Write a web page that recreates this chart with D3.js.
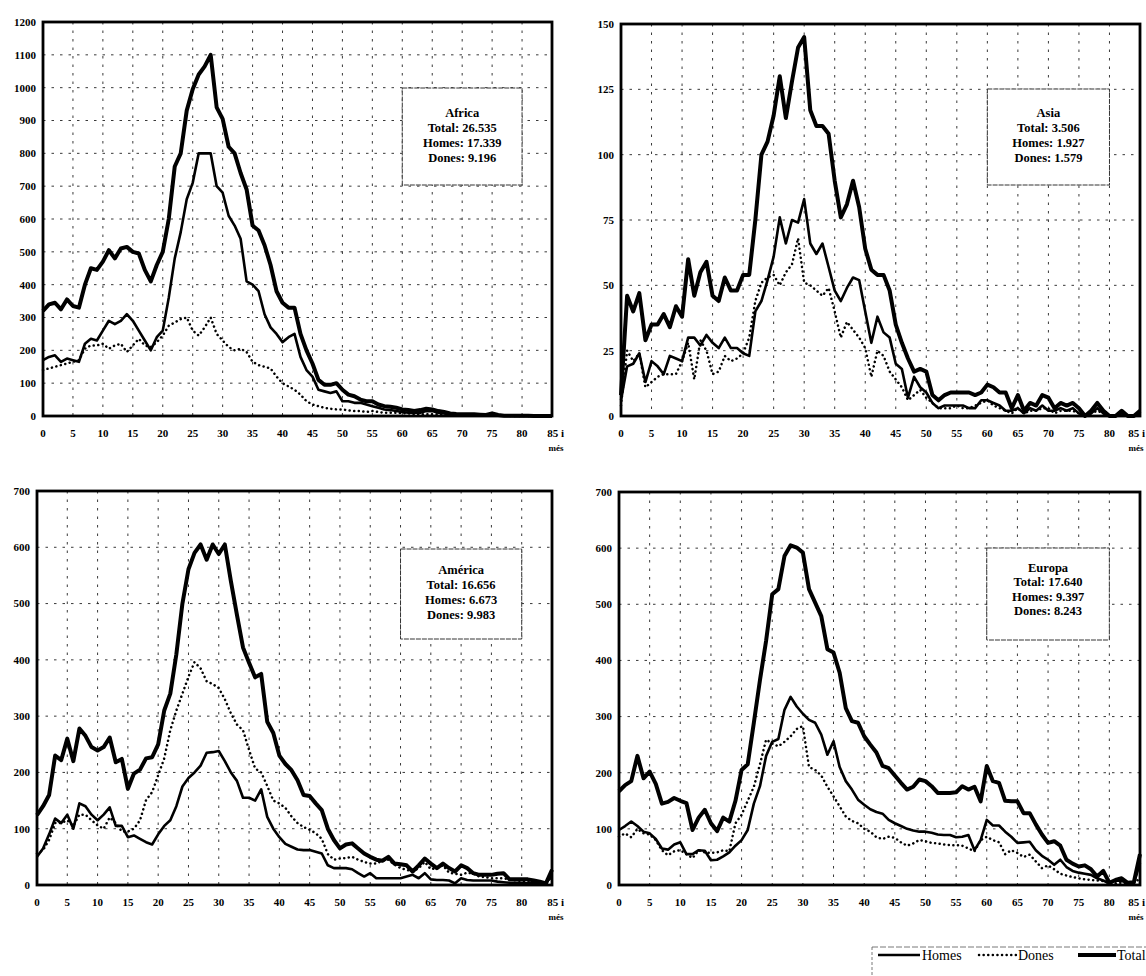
<!DOCTYPE html>
<html>
<head>
<meta charset="utf-8">
<script src="https://cdn.jsdelivr.net/npm/d3@7"></script>
<style>
  html, body { margin: 0; padding: 0; background: #fff; }
  svg { display: block; }
  text { font-family: "Liberation Serif", "DejaVu Serif", serif; fill: #000; }
</style>
</head>
<body>
<svg id="chart" width="1146" height="976"></svg>
<script>
// ---------- DATA ----------
const ages = d3.range(0, 86); // 0 .. 85 i més
const xTicks = [0,5,10,15,20,25,30,35,40,45,50,55,60,65,70,75,80,85];
const xTickLabels = ["0","5","10","15","20","25","30","35","40","45","50","55","60","65","70","75","80","85 i"];

const africaTotal = [320,340,345,325,355,335,330,400,450,445,470,505,480,510,515,500,495,445,410,460,500,600,760,800,930,995,1040,1065,1100,940,905,820,800,740,690,580,565,520,460,380,345,330,330,250,200,160,110,95,95,100,80,65,60,50,45,45,35,30,28,25,20,18,15,18,22,20,15,12,8,6,5,5,5,4,3,8,3,1,1,1,1,1,0,0,0,0];
const africaHomes = [170,180,185,165,175,170,165,220,235,230,260,290,280,290,310,290,260,230,200,240,260,360,480,560,660,710,800,800,800,700,680,610,580,540,410,400,380,310,270,250,225,240,250,180,140,120,80,75,70,75,45,45,40,40,35,30,25,20,18,15,12,10,10,10,15,15,10,8,5,4,3,3,3,2,2,5,2,1,1,0,0,0,0,0,0,0];
const africaDones = [140,145,150,155,160,165,170,205,215,215,220,205,215,220,195,215,235,215,210,225,245,275,285,295,300,260,245,270,300,250,230,210,200,205,195,165,155,150,145,120,100,90,80,65,45,35,30,25,22,20,20,17,15,15,12,15,12,10,10,10,8,8,5,5,5,5,5,4,3,3,2,2,2,2,1,3,1,1,0,0,0,0,0,0,0,0];

const asiaTotal = [8,46,40,47,29,35,35,39,34,42,38,60,46,55,59,46,44,53,48,48,54,54,75,100,105,115,130,114,128,141,145,117,111,111,108,90,76,81,90,80,64,56,54,54,48,35,28,22,17,18,17,8,6,8,9,9,9,9,8,9,12,11,9,9,3,8,2,5,4,8,7,3,5,4,5,3,0,2,5,2,0,0,2,0,0,2];
const asiaHomes = [6,19,20,24,13,21,19,16,23,22,21,30,30,27,31,28,26,30,26,26,24,23,40,44,52,61,76,66,75,74,83,66,62,66,57,48,44,49,53,52,40,28,38,32,30,20,18,7,15,11,9,5,3,4,4,4,4,3,3,6,6,5,4,2,2,3,1,3,2,4,2,2,3,2,3,1,0,1,3,1,0,0,1,0,0,1];
const asiaDones = [4,25,21,24,11,13,15,16,16,16,21,28,14,29,25,16,17,23,21,22,24,30,44,51,53,54,50,55,58,68,51,50,48,46,49,40,30,36,33,30,26,15,25,23,17,14,11,6,8,10,7,5,3,3,3,4,3,3,4,5,6,4,3,2,1,3,1,2,2,3,3,1,2,2,2,1,0,1,2,1,0,0,1,0,0,1];

const americaTotal = [124,140,160,230,222,260,220,278,265,245,239,245,262,218,224,171,198,205,225,227,250,310,340,410,500,561,590,605,578,605,588,605,540,480,422,395,369,375,290,270,230,215,204,186,160,158,145,133,100,80,65,72,74,65,56,50,45,43,50,38,37,35,24,35,47,38,30,38,30,24,35,30,21,18,18,18,20,21,10,10,10,10,8,6,3,27];
const americaHomes = [50,65,90,118,110,125,100,145,140,125,115,125,138,105,105,85,88,82,76,72,90,105,115,140,175,190,200,212,235,236,238,220,200,185,155,155,150,170,121,100,85,73,68,63,62,62,59,56,35,30,30,30,28,21,15,21,12,12,12,12,12,15,18,12,21,10,9,9,8,3,12,9,8,8,8,8,6,5,4,4,4,3,3,3,3,18];
const americaDones = [56,62,80,110,110,115,105,125,125,115,106,100,120,110,95,95,100,115,151,165,195,225,275,310,340,370,396,385,362,357,350,330,305,285,275,240,207,200,176,150,145,137,122,110,103,98,92,82,55,45,47,48,50,45,41,38,38,43,45,36,30,27,24,30,41,28,30,35,22,20,18,22,20,15,14,12,12,12,10,8,7,6,5,4,3,15];

const europaTotal = [167,178,185,230,190,202,180,145,148,155,150,146,98,120,134,110,96,120,113,150,205,215,289,365,435,518,527,586,605,601,592,527,503,479,420,414,378,315,292,289,265,250,236,212,208,195,182,170,175,188,185,176,164,164,164,165,176,170,175,149,212,185,182,150,149,149,128,128,108,90,75,78,70,45,38,33,35,28,15,25,4,9,12,4,5,55];
const europaHomes = [98,105,113,105,95,92,82,65,63,72,76,55,55,62,61,44,45,51,58,70,80,98,145,176,230,255,260,312,335,318,305,294,289,268,232,256,210,185,170,152,143,135,130,127,116,110,105,100,97,95,95,93,90,89,89,85,86,89,62,80,116,106,106,95,86,75,76,77,62,52,45,36,45,32,25,22,20,18,12,8,3,8,7,4,3,39];
const europaDones = [86,92,85,100,92,90,80,62,53,60,62,55,48,62,58,57,58,62,60,110,125,150,175,215,259,252,247,255,265,278,283,210,205,195,175,158,140,122,114,110,100,95,85,82,86,84,76,70,74,80,78,75,74,72,71,71,70,65,60,80,86,80,76,55,62,57,50,54,42,30,35,28,20,17,14,12,10,9,8,7,3,3,4,3,3,12];

const regionNames = ["Africa", "Asia", "América", "Europa"];
const regionTotals = ["26.535", "3.506", "16.656", "17.640"];
const regionHomes  = ["17.339", "1.927", "6.673", "9.397"];
const regionDones  = ["9.196", "1.579", "9.983", "8.243"];
const yMaxes = [1200, 150, 700, 700];
const ySteps = [100, 25, 100, 100];
const seriesNames = ["Homes", "Dones", "Total"];

// ---------- LAYOUT ----------
const W = 1146;
const layout = [
  { left: 43,  right: 552,  top: 22,  bottom: 416, textY: [113,128,143,158], boxY: [88,185] },
  { left: 621, right: 1140, top: 24,  bottom: 416, textY: [113,128,143,158], boxY: [89,185] },
  { left: 37,  right: 552,  top: 491, bottom: 885, textY: [570,585,600,615], boxY: [549,639] },
  { left: 619, right: 1140, top: 492, bottom: 885, textY: [568,582,597,611], boxY: [548,640] }
];
const dataSets = [
  [africaHomes, africaDones, africaTotal],
  [asiaHomes, asiaDones, asiaTotal],
  [americaHomes, americaDones, americaTotal],
  [europaHomes, europaDones, europaTotal]
];

const styles = {
  Homes: { width: 2.6, dash: null, cap: "butt" },
  Dones: { width: 2.5, dash: "0.1,4.5", cap: "round" },
  Total: { width: 4, dash: null, cap: "butt" }
};

const svg = d3.select("#chart");

layout.forEach((L, i) => {
  const g = svg.append("g");
  const x = d3.scaleLinear().domain([0, 85]).range([L.left, L.right]);
  const y = d3.scaleLinear().domain([0, yMaxes[i]]).range([L.bottom, L.top]);
  const yTicks = d3.range(0, yMaxes[i] + 1, ySteps[i]);

  // grid
  g.append("g").selectAll("line")
    .data(yTicks.filter(t => t > 0 && t < yMaxes[i]))
    .join("line")
    .attr("x1", L.left).attr("x2", L.right)
    .attr("y1", d => y(d)).attr("y2", d => y(d))
    .attr("stroke", "#222").attr("stroke-width", 0.9)
    .attr("stroke-dasharray", "2.5,6");
  g.append("g").selectAll("line")
    .data(xTicks.filter(t => t > 0 && t < 85))
    .join("line")
    .attr("x1", d => x(d)).attr("x2", d => x(d))
    .attr("y1", L.top).attr("y2", L.bottom)
    .attr("stroke", "#222").attr("stroke-width", 0.9)
    .attr("stroke-dasharray", "2.5,6");

  // info box (white, over the grid)
  g.append("rect")
    .attr("x", x(60)).attr("y", L.boxY[0])
    .attr("width", x(80) - x(60)).attr("height", L.boxY[1] - L.boxY[0])
    .attr("fill", "#fff").attr("stroke", "#333").attr("stroke-width", 1)
    .attr("stroke-dasharray", "5,1");
  const lines = [regionNames[i], "Total: " + regionTotals[i], "Homes: " + regionHomes[i], "Dones: " + regionDones[i]];
  g.selectAll("text.info").data(lines).join("text")
    .attr("class", "info")
    .attr("x", x(70)).attr("y", (d, k) => L.textY[k])
    .attr("dy", "0.35em")
    .attr("text-anchor", "middle")
    .attr("font-size", 12.5).attr("font-weight", "bold")
    .text(d => d);

  // series
  const line = d3.line().x((d, k) => x(ages[k])).y(d => y(d));
  dataSets[i].forEach((vals, s) => {
    const st = styles[seriesNames[s]];
    g.append("path")
      .datum(vals)
      .attr("d", line)
      .attr("fill", "none")
      .attr("stroke", "#000")
      .attr("stroke-width", st.width)
      .attr("stroke-linejoin", "round")
      .attr("stroke-linecap", st.cap)
      .attr("stroke-dasharray", st.dash);
  });

  // frame
  g.append("rect")
    .attr("x", L.left).attr("y", L.top)
    .attr("width", L.right - L.left).attr("height", L.bottom - L.top)
    .attr("fill", "none").attr("stroke", "#000").attr("stroke-width", 2.8);

  // y tick labels
  g.selectAll("text.yt").data(yTicks).join("text")
    .attr("class", "yt")
    .attr("x", L.left - 7).attr("y", d => y(d)).attr("dy", "0.35em")
    .attr("text-anchor", "end")
    .attr("font-size", 11).attr("font-weight", "bold")
    .text(d => d);

  // x tick labels (last one "85 i", ending near the frame / page edge)
  g.selectAll("text.xt").data(xTicks).join("text")
    .attr("class", "xt")
    .attr("x", (d, k) => k === xTicks.length - 1 ? Math.min(x(d) + 12, W - 1) : x(d))
    .attr("y", L.bottom + 17).attr("dy", "0.35em")
    .attr("text-anchor", (d, k) => k === xTicks.length - 1 ? "end" : "middle")
    .attr("font-size", 11).attr("font-weight", "bold")
    .text((d, k) => xTickLabels[k]);
  g.append("text")
    .attr("x", Math.min(x(85) + 4, W - 10)).attr("y", L.bottom + 32).attr("dy", "0.35em")
    .attr("text-anchor", "middle")
    .attr("font-size", 9).attr("font-weight", "bold")
    .text("més");
});

// ---------- LEGEND ----------
const lg = svg.append("g");
lg.append("line").attr("x1", 872).attr("x2", 1146).attr("y1", 947).attr("y2", 947)
  .attr("stroke", "#555").attr("stroke-width", 0.8).attr("stroke-dasharray", "6,2");
lg.append("line").attr("x1", 872).attr("x2", 872).attr("y1", 947).attr("y2", 976)
  .attr("stroke", "#555").attr("stroke-width", 0.8).attr("stroke-dasharray", "3,2");
const legendItems = [
  { name: seriesNames[0], x1: 878, x2: 920, tx: 922 },
  { name: seriesNames[1], x1: 979, x2: 1016, tx: 1018 },
  { name: seriesNames[2], x1: 1078, x2: 1116, tx: 1117 }
];
legendItems.forEach(it => {
  const st = styles[it.name];
  lg.append("line").attr("x1", it.x1).attr("x2", it.x2).attr("y1", 955).attr("y2", 955)
    .attr("stroke", "#000").attr("stroke-width", st.width)
    .attr("stroke-linecap", st.cap).attr("stroke-dasharray", st.dash);
  lg.append("text").attr("x", it.tx).attr("y", 955).attr("dy", "0.35em")
    .attr("font-size", 14).text(it.name);
});
</script>
</body>
</html>
